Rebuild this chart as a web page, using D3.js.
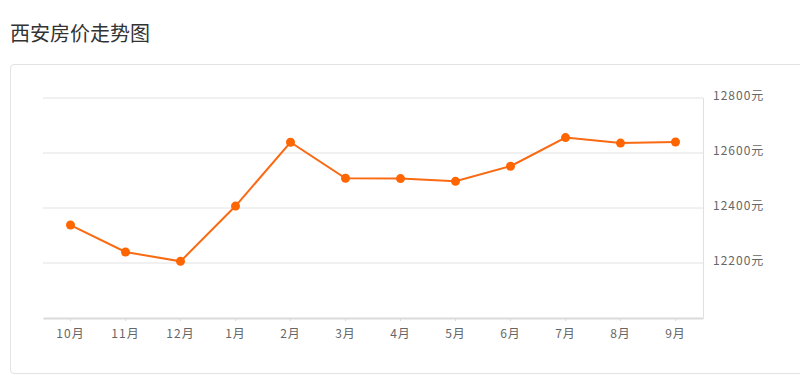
<!DOCTYPE html>
<html>
<head>
<meta charset="utf-8">
<script src="https://cdn.jsdelivr.net/npm/d3@7"></script>
<style>
  body { margin: 0; background: #fff; font-family: "Noto Sans CJK SC", "Noto Sans", sans-serif; }
  .title { position: absolute; left: 10px; top: 18px; font-size: 20px; color: #333; }
  .card { position: absolute; left: 10px; top: 64px; width: 800px; height: 310px;
          border: 1px solid #e3e3e3; border-radius: 4px; box-sizing: border-box; }
  #chart { position: absolute; left: 0; top: 0; }
</style>
</head>
<body>
<div class="title">西安房价走势图</div>
<div class="card"></div>
<div id="chart"></div>
<script>
const months = ['10月', '11月', '12月', '1月', '2月', '3月', '4月', '5月', '6月', '7月', '8月', '9月'];
const prices = [12338, 12240, 12206, 12407, 12639, 12508, 12507, 12497, 12552, 12656, 12636, 12640];
const yTicks = [12200, 12400, 12600, 12800];

const width = 800;
const height = 375;
const margin = { top: 98, right: 97, bottom: 57, left: 43 };

const x_scale = d3.scaleBand()
  .range([margin.left, width - margin.right])
  .domain(months);
const y_scale = d3.scaleLinear()
  .range([height - margin.bottom, margin.top])
  .domain([12000, 12800]);

const svg = d3.select('#chart')
  .append('svg')
  .attr('width', width)
  .attr('height', height);

// grid lines
svg.append('g')
  .selectAll('line')
  .data(yTicks)
  .enter().append('line')
  .attr('x1', margin.left)
  .attr('x2', width - margin.right)
  .attr('y1', d => y_scale(d))
  .attr('y2', d => y_scale(d))
  .attr('stroke', '#e2e2e2')
  .attr('stroke-width', 1);

// right border of plot
svg.append('line')
  .attr('x1', width - margin.right + 0.5)
  .attr('x2', width - margin.right + 0.5)
  .attr('y1', margin.top)
  .attr('y2', height - margin.bottom)
  .attr('stroke', '#e0e0e0');

// y labels on the right
svg.append('g')
  .selectAll('text')
  .data(yTicks)
  .enter().append('text')
  .attr('x', width - margin.right + 10)
  .attr('y', d => y_scale(d) - 2)
  .attr('dy', '0.35em')
  .attr('font-size', 12)
  .attr('letter-spacing', 1)
  .attr('fill', '#666')
  .text(d => d + '元');

// x axis
const xAxis = svg.append('g')
  .attr('transform', `translate(0, ${height - margin.bottom})`)
  .call(d3.axisBottom(x_scale).tickSize(3).tickSizeOuter(0).tickPadding(8));
xAxis.select('.domain').attr('stroke', '#dadada').attr('stroke-width', 2);
xAxis.selectAll('.tick line').attr('stroke', '#dadada');
xAxis.selectAll('text')
  .attr('font-size', 12)
  .attr('letter-spacing', 1)
  .attr('fill', '#666')
  .attr('font-family', '"Noto Sans CJK SC", sans-serif');

const cx = d => x_scale(d) + x_scale.bandwidth() / 2;

const line = d3.line()
  .x((d, i) => cx(months[i]))
  .y(d => y_scale(d));

svg.append('path')
  .datum(prices)
  .attr('fill', 'none')
  .attr('stroke', '#f96a12')
  .attr('stroke-width', 2)
  .attr('d', line);

svg.append('g')
  .selectAll('circle')
  .data(prices)
  .enter().append('circle')
  .attr('cx', (d, i) => cx(months[i]))
  .attr('cy', d => y_scale(d))
  .attr('r', 4.5)
  .attr('fill', '#ff6500');
</script>
</body>
</html>
